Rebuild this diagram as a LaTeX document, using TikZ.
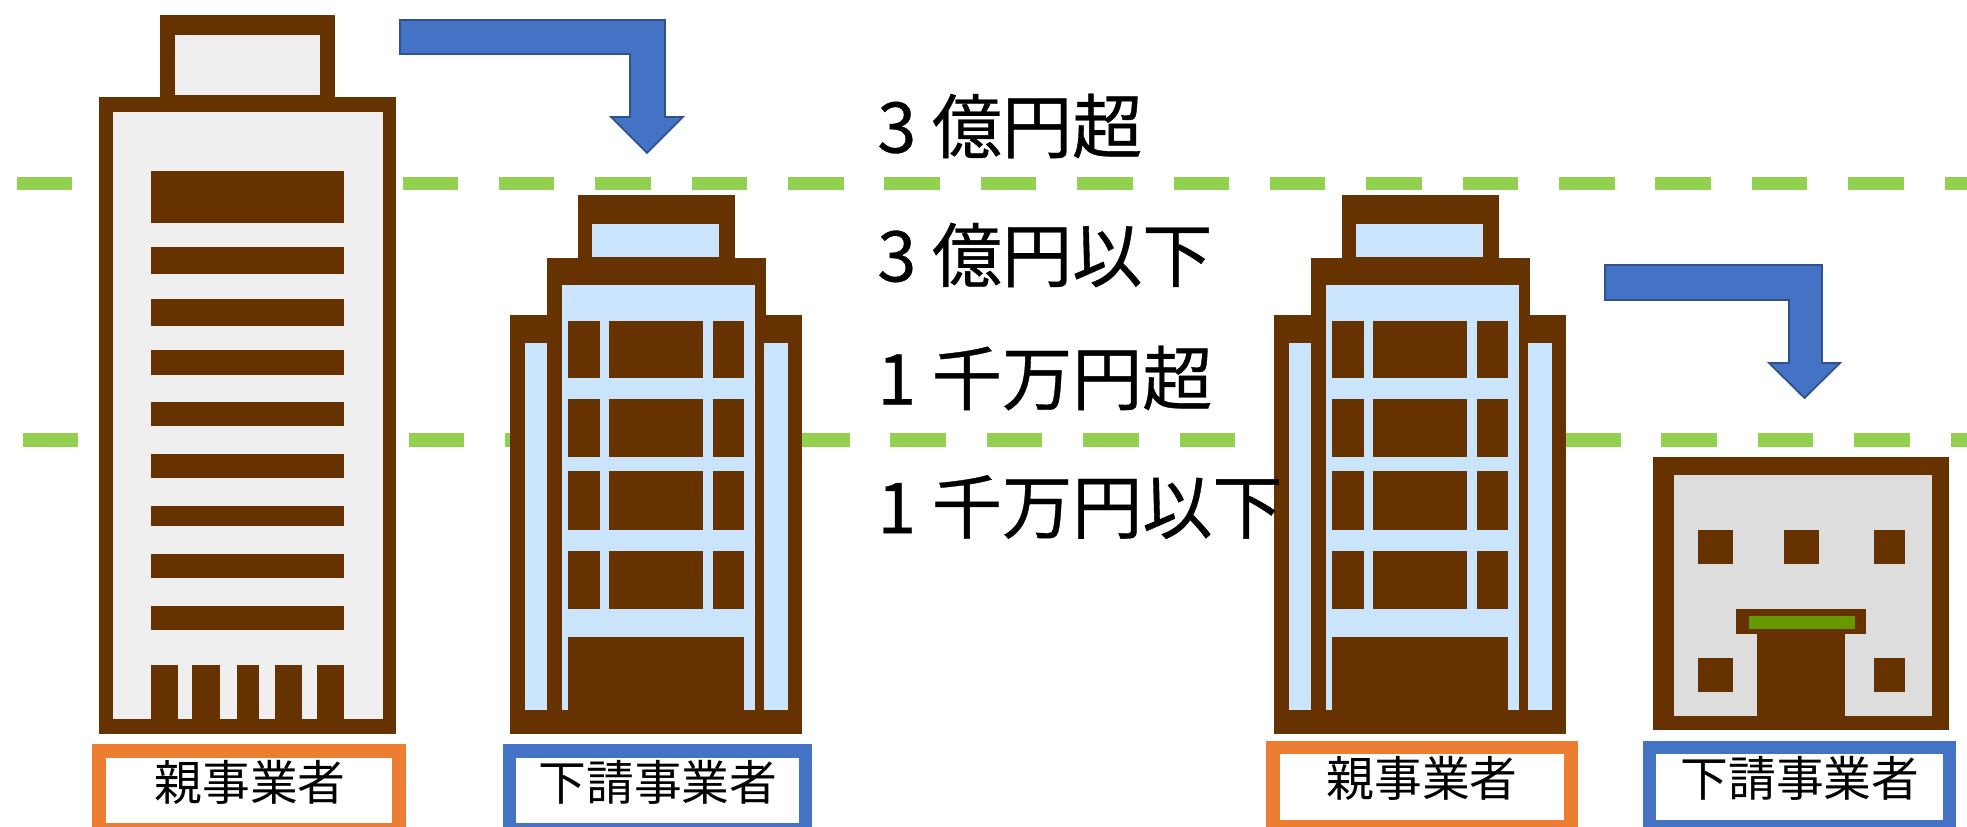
\documentclass[tikz,border=0pt]{standalone}
\usepackage{fontspec}
\setmainfont{Noto Sans CJK JP}
\newfontfamily\heavierfont[FakeBold=0.5]{Noto Sans CJK JP}
\definecolor{wallbrown}{HTML}{663300}
\definecolor{palegray}{HTML}{EFEFEF}
\definecolor{midgray}{HTML}{DDDDDD}
\definecolor{paleblue}{HTML}{CCE5FF}
\definecolor{signgreen}{HTML}{669900}
\definecolor{limitgreen}{HTML}{92D050}
\definecolor{ownerorange}{HTML}{ED7D31}
\definecolor{subblue}{HTML}{4472C4}
\definecolor{subblueline}{HTML}{2F528F}
\tikzset{
  wall/.style={fill=wallbrown},
  limitline/.style={limitgreen, line width=7.4pt, dash pattern=on 1.11cm off 0.818cm},
  flowarrow/.style={fill=subblue, draw=subblueline, line width=1pt},
  capitaltext/.style={anchor=west, inner sep=0pt, font=\heavierfont\fontsize{39.9}{42}\selectfont},
  rolebox/.style={draw, line width=7.9pt, fill=white, minimum height=1.58cm, inner sep=0pt},
  roletext/.style={inner sep=0pt, font=\fontsize{27.2}{30}\selectfont},
  towerbldg/.pic={
    % outline
    \fill[wall] (0,315) rectangle (292,734);
    \fill[wall] (37,258) rectangle (256,315);
    \fill[wall] (68,195) rectangle (225,258);
    % glass
    \fill[paleblue] (82,224) rectangle (209,257);
    \fill[paleblue] (52,285) rectangle (245,710);
    \fill[paleblue] (15,343) rectangle (37,710);
    \fill[paleblue] (254,343) rectangle (278,710);
    % windows
    \foreach \rowtop/\rowbot in {321/378,399/457,471/530,551/609} {
      \fill[wall] (58,\rowtop) rectangle (90,\rowbot);
      \fill[wall] (99,\rowtop) rectangle (193,\rowbot);
      \fill[wall] (203,\rowtop) rectangle (234,\rowbot);
    }
    % door
    \fill[wall] (58,637) rectangle (234,712);
  }
}
\begin{document}
\begin{tikzpicture}[x=0.02cm,y=-0.02cm]
  \useasboundingbox (0,0) rectangle (1967,827);
  \clip (0,0) rectangle (1967,827);

  % limit lines
  \coordinate (upperstart) at (17,184);
  \coordinate (upperend) at (1967,184);
  \coordinate (lowerstart) at (23,440);
  \coordinate (lowerend) at (1967,440);
  \draw[limitline] (upperstart) -- (upperend);
  \draw[limitline] (lowerstart) -- (lowerend);

  % tall building
  \fill[wall] (160,15) rectangle (335,100);
  \fill[wall] (99,97) rectangle (396,734);
  \fill[palegray] (175,35) rectangle (320,95);
  \fill[palegray] (113,112) rectangle (383,719);
  \fill[wall] (151,171) rectangle (344,223);
  \foreach \bartop/\barbot in {247/274,299/326,350/375,402/426,454/478,506/526,554/578,606/630} {
    \fill[wall] (151,\bartop) rectangle (344,\barbot);
  }
  \foreach \legl/\legr in {151/178,192/220,237/259,275/302,317/344} {
    \fill[wall] (\legl,665) rectangle (\legr,722);
  }

  % office towers
  \pic at (510,0) {towerbldg};
  \pic at (1274,0) {towerbldg};

  % small building
  \fill[wall] (1653,457) rectangle (1949,730);
  \fill[midgray] (1674,475) rectangle (1932,716);
  \foreach \winl/\winr/\wint/\winb in {1698/1733/530/564,1784/1819/530/564,1874/1905/530/564,1698/1733/658/692,1874/1905/658/692} {
    \fill[wall] (\winl,\wint) rectangle (\winr,\winb);
  }
  \fill[wall] (1736,609) rectangle (1866,634);
  \fill[signgreen] (1749,616) rectangle (1855,629);
  \fill[wall] (1757,634) rectangle (1845,718);

  % arrows
  \filldraw[flowarrow] (400,20) -- (665,20) -- (665,117) -- (683,117) -- (647,153) -- (611,117) -- (630,117) -- (630,54) -- (400,54) -- cycle;
  \filldraw[flowarrow] (1605,265) -- (1822,265) -- (1822,363) -- (1840,363) -- (1804.5,398) -- (1769,363) -- (1789,363) -- (1789,300) -- (1605,300) -- cycle;

  % capital amounts
  \node[capitaltext] (over3oku) at (877,126) {3 億円超};
  \node[capitaltext] (under3oku) at (877,255) {3 億円以下};
  \node[capitaltext] (over1sen) at (877,378) {1 千万円超};
  \node[capitaltext] (under1sen) at (877,507) {1 千万円以下};

  % role boxes
  \node[rolebox, draw=ownerorange, minimum width=6cm] (ownerleft) at (249,790.5) {};
  \node[rolebox, draw=subblue, minimum width=5.92cm] (subleft) at (657.5,790.5) {};
  \node[rolebox, draw=ownerorange, minimum width=5.96cm] (ownerright) at (1422,787) {};
  \node[rolebox, draw=subblue, minimum width=6cm] (subright) at (1799.5,787) {};
  \node[roletext] (ownerlefttext) at (250,782) {親事業者};
  \node[roletext] (sublefttext) at (658,782) {下請事業者};
  \node[roletext] (ownerrighttext) at (1422,778) {親事業者};
  \node[roletext] (subrighttext) at (1800,778) {下請事業者};
\end{tikzpicture}
\end{document}
